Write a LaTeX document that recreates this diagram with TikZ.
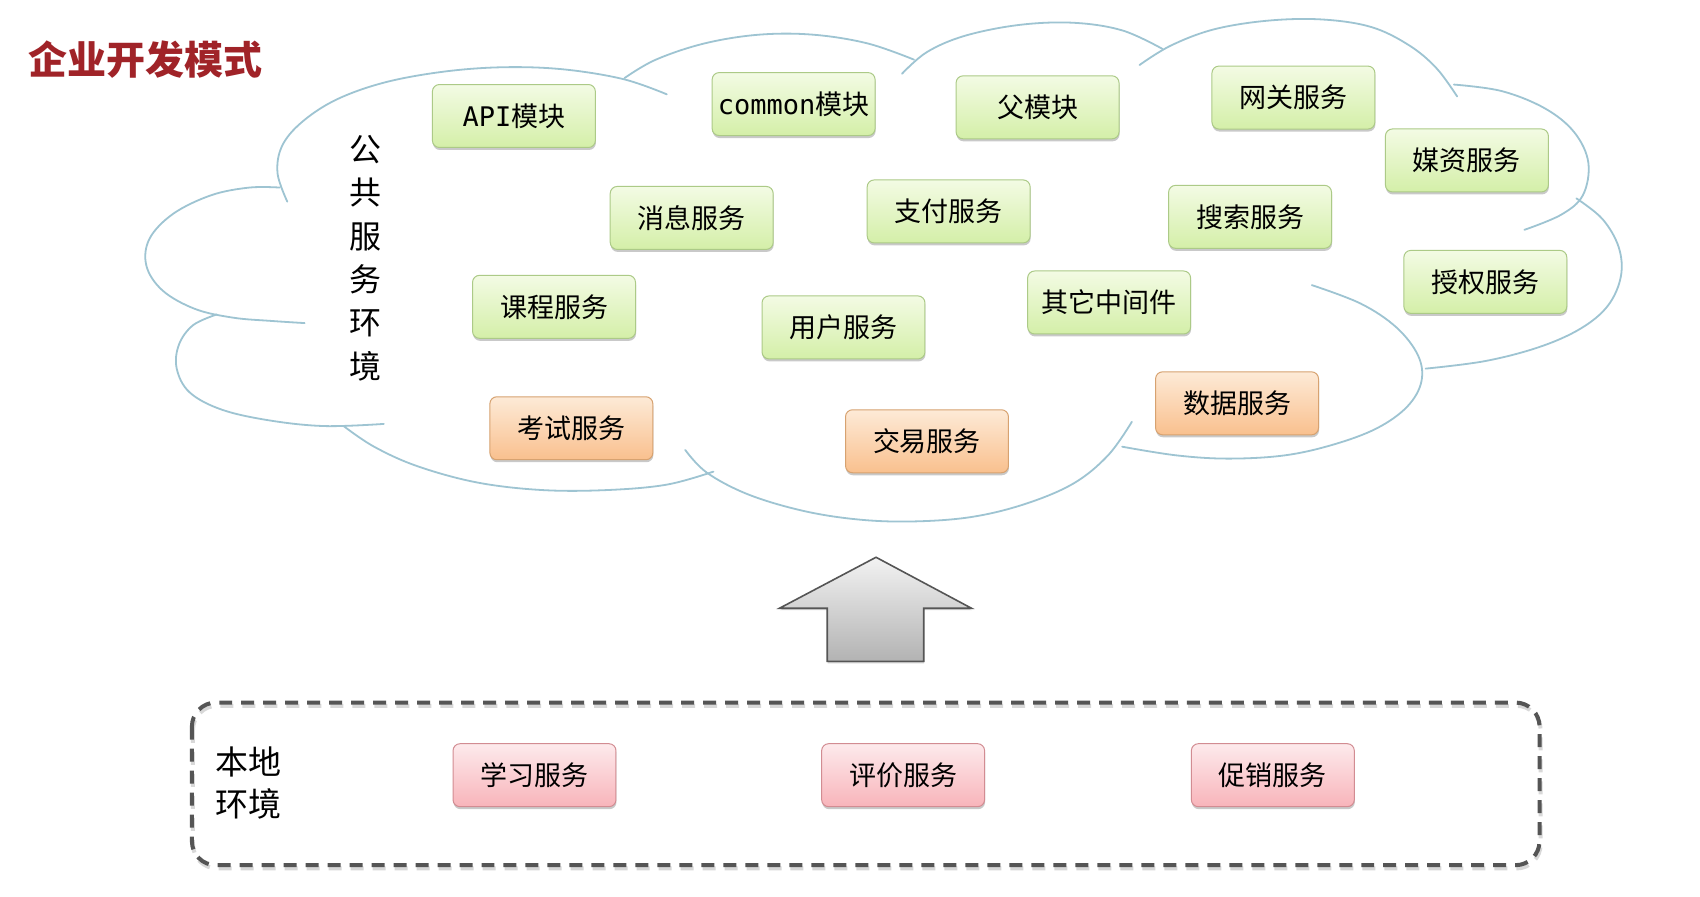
\documentclass[tikz,border=0pt]{standalone}
\usepackage{fontspec}
\setmainfont{Noto Sans CJK SC}
\newfontfamily\monofont{DejaVu Sans Mono}
\usetikzlibrary{shadows}
\definecolor{cloudc}{RGB}{158,196,210}
\definecolor{titlec}{RGB}{160,35,40}
\definecolor{gtop}{RGB}{243,251,228}
\definecolor{gbot}{RGB}{212,239,168}
\definecolor{gborder}{RGB}{172,202,135}
\definecolor{otop}{RGB}{253,234,215}
\definecolor{obot}{RGB}{249,192,142}
\definecolor{oborder}{RGB}{215,162,112}
\definecolor{ptop}{RGB}{253,234,236}
\definecolor{pbot}{RGB}{248,180,186}
\definecolor{pborder}{RGB}{210,140,146}
\definecolor{dashc}{RGB}{85,85,85}
\tikzset{
  box/.style={rounded corners=7pt, minimum width=163pt, minimum height=63pt,
    line width=1pt, inner sep=0pt, font=\fontsize{27}{30}\selectfont,
    drop shadow={shadow xshift=0.5pt, shadow yshift=-2.5pt, opacity=0.35, fill=black!60}},
  gbox/.style={box, draw=gborder, top color=gtop, bottom color=gbot},
  obox/.style={box, draw=oborder, top color=otop, bottom color=obot},
  pbox/.style={box, draw=pborder, top color=ptop, bottom color=pbot},
  cloudline/.style={draw=cloudc, line width=1.8pt, line cap=round},
  envlabel/.style={align=center, inner sep=0pt},
}
\begin{document}
\begin{tikzpicture}[x=1.0845pt,y=-1.0845pt]
\useasboundingbox[fill=white] (0,0) rectangle (1568,827);

% title
\node[font=\bfseries\fontsize{39}{42}\selectfont, text=titlec, inner sep=0pt] (title) at (134,55) {企业开发模式};

% cloud outline
\draw[cloudline] plot[smooth, tension=0.6] coordinates {(265,186) (256,160) (260,135) (278,113) (310,92) (355,76) (410,66) (465,62) (520,64) (575,73) (615,87)};
\draw[cloudline] plot[smooth, tension=0.6] coordinates {(576,72) (605,55) (650,40) (700,32) (750,32) (800,40) (843,55)};
\draw[cloudline] plot[smooth, tension=0.6] coordinates {(832,68) (855,48) (890,33) (940,23) (990,21) (1035,28) (1072,45)};
\draw[cloudline] plot[smooth, tension=0.6] coordinates {(1051,60) (1080,42) (1120,27) (1170,19) (1220,18) (1265,25) (1300,42) (1325,63) (1344,89)};
\draw[cloudline] plot[smooth, tension=0.6] coordinates {(1341,78) (1385,84) (1425,100) (1452,122) (1465,150) (1460,180) (1440,198) (1406,212)};
\draw[cloudline] plot[smooth, tension=0.6] coordinates {(1454,183) (1478,202) (1493,228) (1495,255) (1483,282) (1458,303) (1420,320) (1370,333) (1315,340)};
\draw[cloudline] plot[smooth, tension=0.6] coordinates {(1210,263) (1255,280) (1288,302) (1308,328) (1311,352) (1298,375) (1270,395) (1230,410) (1185,420) (1133,423) (1085,420) (1035,412)};
\draw[cloudline] plot[smooth, tension=0.6] coordinates {(632,415) (652,436) (690,456) (740,471) (790,479) (840,481) (895,477) (945,465) (990,446) (1022,420) (1044,389)};
\draw[cloudline] plot[smooth, tension=0.6] coordinates {(317,393) (345,412) (385,430) (440,445) (500,452) (560,452) (615,447) (658,435)};
\draw[cloudline] plot[smooth, tension=0.6] coordinates {(200,290) (178,300) (165,318) (163,340) (175,362) (205,378) (250,388) (300,393) (354,391)};
\draw[cloudline] plot[smooth, tension=0.6] coordinates {(258,173) (230,173) (195,180) (160,197) (138,220) (135,245) (150,268) (180,285) (215,293) (250,296) (281,298)};

% cloud label
\node[envlabel, font=\fontsize{32}{43.4}\selectfont] (pub) at (337,238) {公\\共\\服\\务\\环\\境};

% green boxes
\node[gbox] (api) at (474,107) {{\monofont API}模块};
\node[gbox] (common) at (732,96) {{\monofont common}模块};
\node[gbox] (parent) at (957,99) {父模块};
\node[gbox] (gateway) at (1193,90) {网关服务};
\node[gbox] (media) at (1353,148) {媒资服务};
\node[gbox] (msg) at (638,201) {消息服务};
\node[gbox] (pay) at (875,195) {支付服务};
\node[gbox] (search) at (1153,200) {搜索服务};
\node[gbox] (auth) at (1370,260) {授权服务};
\node[gbox] (course) at (511,283) {课程服务};
\node[gbox] (user) at (778,302) {用户服务};
\node[gbox] (mid) at (1023,279) {其它中间件};
% orange boxes
\node[obox] (exam) at (527,395) {考试服务};
\node[obox] (trade) at (855,407) {交易服务};
\node[obox] (data) at (1141,372) {数据服务};

% arrow
\draw[draw=dashc, line width=1.6pt, line join=miter, top color=black!5, bottom color=black!30,
      drop shadow={shadow xshift=0.5pt, shadow yshift=-2pt, opacity=0.3, fill=black!60}]
  (808,514) -- (896,561) -- (852,561) -- (852,610) -- (763,610) -- (763,561) -- (719,561) -- cycle;

% local environment box
\draw[black!25, line width=4pt, dash pattern=on 13pt off 9pt, rounded corners=24pt, opacity=0.6]
  (178,651) rectangle (1421,801);
\draw[dashc, line width=4pt, dash pattern=on 13pt off 9pt, rounded corners=24pt]
  (177,648) rectangle (1420,798);
\node[envlabel, font=\fontsize{33}{42}\selectfont] (local) at (229,722) {本地\\环境};

% pink boxes
\node[pbox] (study) at (493,715) {学习服务};
\node[pbox] (review) at (833,715) {评价服务};
\node[pbox] (promo) at (1174,715) {促销服务};
\end{tikzpicture}
\end{document}
